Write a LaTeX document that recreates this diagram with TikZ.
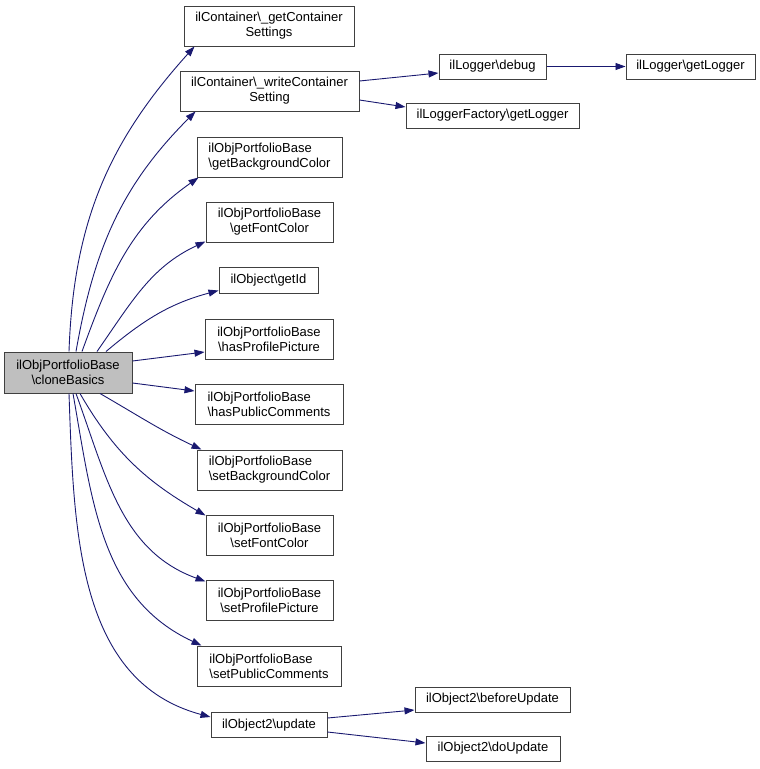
\documentclass[tikz,border=0pt]{standalone}
\usepackage{fontspec}
\setmainfont{Liberation Sans}
\usetikzlibrary{arrows.meta}
\definecolor{edgecol}{HTML}{191970}
\begin{document}
\begin{tikzpicture}[x=1pt,y=-1pt,
  box/.style={draw=black!75, line width=1pt, fill=white, inner sep=0pt,
    font=\fontsize{13}{15}\selectfont, align=center},
  lbox/.style={box, align=left},
  edge/.style={draw=edgecol, line width=0.9pt, -{Triangle[length=10pt,width=7pt]}},
]
\useasboundingbox (0,0) rectangle (760,769);
\newcommand{\bs}{\textbackslash}
% nodes
\node[box, fill=black!25, minimum width=128, minimum height=41] (main) at (68,372.5) {ilObjPortfolioBase\\\bs cloneBasics};
\node[box, minimum width=170, minimum height=40] (gcs) at (269,26) {ilContainer\bs\_getContainer\\Settings};
\node[box, minimum width=179, minimum height=40] (wcs) at (269.5,91) {ilContainer\bs\_writeContainer\\Setting};
\node[box, minimum width=107, minimum height=25] (debug) at (492.5,66.5) {ilLogger\bs debug};
\node[box, minimum width=129, minimum height=25] (getlog) at (690.5,66.5) {ilLogger\bs getLogger};
\node[box, minimum width=173, minimum height=25] (factory) at (492.5,115.5) {ilLoggerFactory\bs getLogger};
\node[lbox, minimum width=145, minimum height=40] (gbc) at (269.5,157) {ilObjPortfolioBase\\\bs getBackgroundColor};
\node[box, minimum width=127, minimum height=40] (gfc) at (269.5,222) {ilObjPortfolioBase\\\bs getFontColor};
\node[box, minimum width=99, minimum height=26] (getid) at (268.5,280) {ilObject\bs getId};
\node[box, minimum width=128, minimum height=40] (hpp) at (269,339) {ilObjPortfolioBase\\\bs hasProfilePicture};
\node[lbox, minimum width=148, minimum height=40] (hpc) at (269,404) {ilObjPortfolioBase\\\bs hasPublicComments};
\node[lbox, minimum width=145, minimum height=40] (sbc) at (269.5,470) {ilObjPortfolioBase\\\bs setBackgroundColor};
\node[box, minimum width=127, minimum height=40] (sfc) at (269.5,535) {ilObjPortfolioBase\\\bs setFontColor};
\node[box, minimum width=127, minimum height=40] (spp) at (269.5,600) {ilObjPortfolioBase\\\bs setProfilePicture};
\node[lbox, minimum width=144, minimum height=40] (spc) at (269,666) {ilObjPortfolioBase\\\bs setPublicComments};
\node[box, minimum width=116, minimum height=25] (update) at (269,725) {ilObject2\bs update};
\node[box, minimum width=155, minimum height=25] (before) at (492.5,699.5) {ilObject2\bs beforeUpdate};
\node[box, minimum width=134, minimum height=25] (doupd) at (493,748.5) {ilObject2\bs doUpdate};
% edges from main
\draw[edge] ([xshift=1pt]main.north) to[out=88,in=228] ([xshift=11pt]gcs.south west);
\draw[edge] ([xshift=8pt]main.north) to[out=80,in=225] ([xshift=16pt]wcs.south west);
\draw[edge] ([xshift=14pt]main.north) to[out=70,in=215] ([xshift=2pt]gbc.south west);
\draw[edge] ([xshift=29pt]main.north) to[out=55,in=205] ([yshift=1pt]gfc.south west);
\draw[edge] ([xshift=38pt]main.north) to[out=40,in=195] ([yshift=3pt]getid.south west);
\draw[edge] ([yshift=11.5pt]main.east) -- ([yshift=-13pt]hpp.west);
\draw[edge] ([yshift=-10.5pt]main.east) -- ([yshift=13pt]hpc.west);
\draw[edge] ([xshift=32pt]main.south) to[out=-30,in=155] ([xshift=5pt]sbc.north west);
\draw[edge] ([xshift=12pt]main.south) to[out=-60,in=150] ([yshift=-1pt]sfc.north west);
\draw[edge] ([xshift=8pt]main.south) to[out=-70,in=160] ([yshift=-2pt]spp.north west);
\draw[edge] ([xshift=5pt]main.south) to[out=-80,in=155] ([xshift=5pt]spc.north west);
\draw[edge] ([xshift=1pt]main.south) to[out=-88,in=165] ([yshift=8pt]update.west);
% right side edges
\draw[edge] ([yshift=10pt]wcs.east) -- ([yshift=-6.5pt]debug.west);
\draw[edge] ([yshift=-9pt]wcs.east) -- ([yshift=8.5pt]factory.west);
\draw[edge] (debug) -- (getlog);
\draw[edge] ([yshift=7pt]update.east) -- ([yshift=-10.5pt]before.west);
\draw[edge] ([yshift=-7pt]update.east) -- ([yshift=5.5pt]doupd.west);
\end{tikzpicture}
\end{document}
